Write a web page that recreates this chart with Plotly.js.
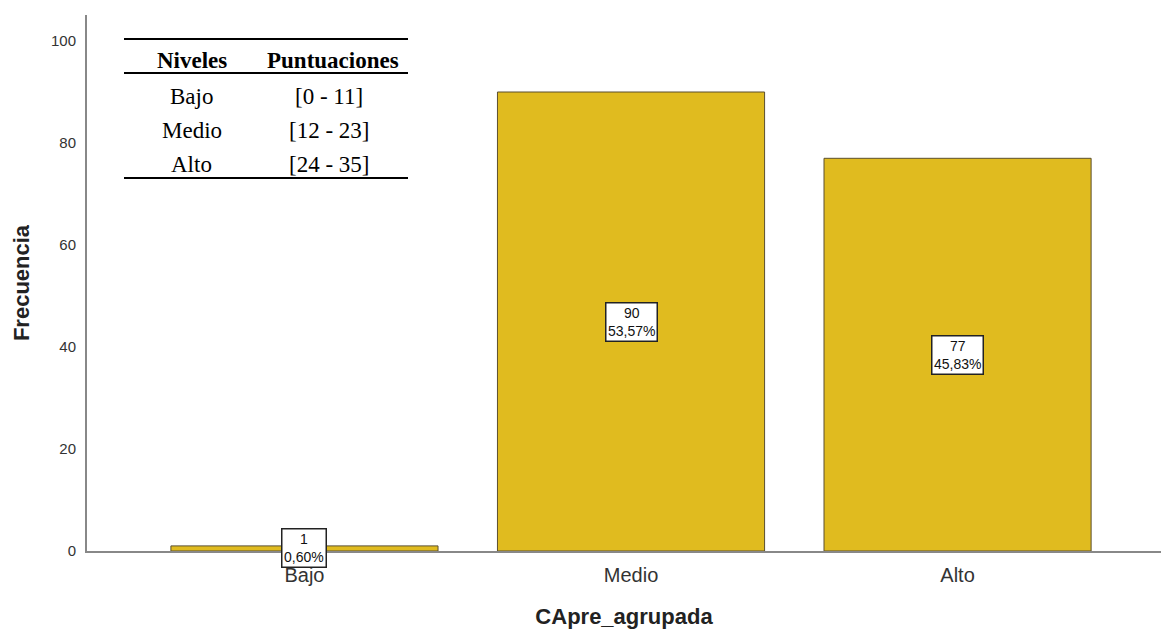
<!DOCTYPE html>
<html>
<head>
<meta charset="utf-8">
<script src="https://cdn.plot.ly/plotly-3.0.1.min.js"></script>
<style>html,body{margin:0;padding:0;background:#fff;}#chart{width:1161px;height:630px;}</style>
</head>
<body>
<div id="chart"></div>
<script>
const categories = ["Bajo", "Medio", "Alto"];
const counts = [1, 90, 77];
const percents = ["0,60%", "53,57%", "45,83%"];
const tableHeaders = ["Niveles", "Puntuaciones"];
const tableLevels = ["Bajo", "Medio", "Alto"];
const tableRanges = ["[0 - 11]", "[12 - 23]", "[24 - 35]"];

const W = 1161, H = 630, L = 87, R = 0, T = 15, B = 79;
const px = x => (x - L) / (W - L - R);
const py = y => (H - B - y) / (H - T - B);
const sans = "Arial, Liberation Sans, sans-serif";
const serif = "Liberation Serif, Times New Roman, serif";

const trace = {
  type: "bar",
  x: [0, 1, 2],
  y: counts,
  width: 0.818,
  marker: {color: "#e0bb1f", line: {color: "#5a4f2e", width: 1}},
  hoverinfo: "skip"
};

const annotations = categories.map((c, i) => ({
  x: i, y: counts[i] / 2, xref: "x", yref: "y",
  xanchor: "center", yanchor: "middle",
  text: counts[i] + "<br>" + percents[i],
  showarrow: false,
  font: {family: sans, size: 14, color: "#111"},
  bgcolor: "#ffffff", bordercolor: "#222", borderwidth: 1.5, borderpad: 1.5
}));

function tcell(x, y, text) {
  return {x: px(x), y: py(y), xref: "paper", yref: "paper", xanchor: "center", yanchor: "middle",
          text: text, showarrow: false, font: {family: serif, size: 23, color: "#000"}};
}
annotations.push(tcell(191.5, 60, "<b>" + tableHeaders[0] + "</b>"));
annotations.push(tcell(333, 60, "<b>" + tableHeaders[1] + "</b>"));
const rowY = [96, 130, 164];
tableLevels.forEach((lv, i) => {
  annotations.push(tcell(191.5, rowY[i], lv));
  annotations.push(tcell(329, rowY[i], tableRanges[i]));
});

const shapes = [39, 73, 178].map((yy) => ({
  type: "line", xref: "paper", yref: "paper",
  x0: px(124), x1: px(408), y0: py(yy), y1: py(yy),
  line: {color: "#000", width: 2}
}));

const layout = {
  width: W, height: H,
  margin: {l: L, r: R, t: T, b: B},
  paper_bgcolor: "#fff", plot_bgcolor: "#fff",
  showlegend: false,
  bargap: 0,
  xaxis: {
    range: [-0.666, 2.623],
    tickvals: [0, 1, 2], ticktext: categories,
    showgrid: false, zeroline: false,
    showline: true, linecolor: "#888", linewidth: 2,
    ticks: "", ticklabelstandoff: 5,
    tickfont: {family: sans, size: 20, color: "#333"},
    title: {text: "<b>CApre_agrupada</b>", font: {family: sans, size: 22, color: "#222"}, standoff: 24}
  },
  yaxis: {
    range: [0, 105.1],
    tickvals: [0, 20, 40, 60, 80, 100],
    showgrid: false, zeroline: false,
    showline: true, linecolor: "#888", linewidth: 2,
    ticks: "", ticklabelstandoff: 6,
    tickfont: {family: sans, size: 15, color: "#333"},
    title: {text: "<b>Frecuencia</b>", font: {family: sans, size: 22, color: "#222"}, standoff: 15}
  },
  annotations: annotations,
  shapes: shapes
};

Plotly.newPlot("chart", [trace], layout, {displayModeBar: false, staticPlot: true});
</script>
</body>
</html>
